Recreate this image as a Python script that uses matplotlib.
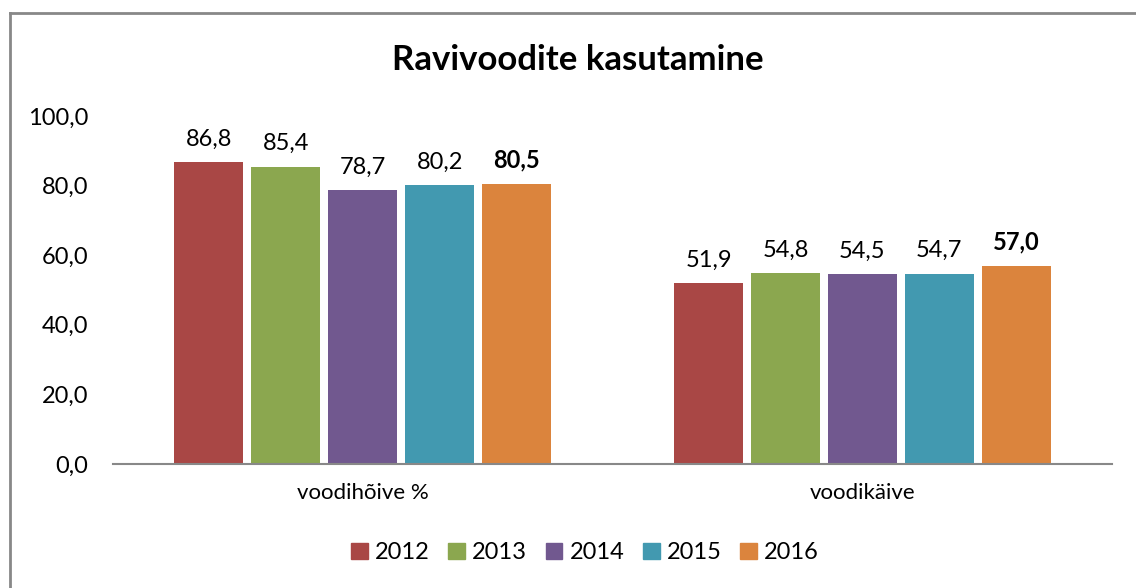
import numpy as np
import matplotlib.pyplot as plt
from matplotlib.lines import Line2D
from matplotlib.patches import Patch

plt.rcParams['font.family'] = ['Lato', 'DejaVu Sans']

categories = ["voodihõive %", "voodikäive"]
years = ["2012", "2013", "2014", "2015", "2016"]
values = {
    "2012": [86.8, 51.9],
    "2013": [85.4, 54.8],
    "2014": [78.7, 54.5],
    "2015": [80.2, 54.7],
    "2016": [80.5, 57.0],
}
colors = ["#A94745", "#8BA74F", "#71588F", "#4299B0", "#DB843D"]
yticks = [0, 20, 40, 60, 80, 100]


def fmt(v):
    return f"{v:.1f}".replace(".", ",")


fig = plt.figure(figsize=(11.36, 5.88), dpi=100)
ax = fig.add_axes([0.0995, 0.2109, 0.8795, 0.5918])

x = np.arange(len(categories))
step = 0.154
width = 0.138
for i, yr in enumerate(years):
    pos = x + (i - 2) * step
    bars = ax.bar(pos, values[yr], width=width, color=colors[i], label=yr)
    bold = yr == "2016"
    for b, v in zip(bars, values[yr]):
        ax.annotate(fmt(v), (b.get_x() + b.get_width() / 2, v),
                    xytext=(0, 9), textcoords="offset points",
                    ha="center", va="bottom", fontsize=17,
                    fontweight="bold" if bold else "normal")

ax.set_xlim(-0.5, 1.5)
ax.set_ylim(0, 100)
ax.set_yticks(yticks)
ax.set_yticklabels([fmt(t) for t in yticks], fontsize=17)
ax.set_xticks(x)
ax.set_xticklabels(categories, fontsize=16)
ax.tick_params(axis="y", length=0, pad=18)
ax.tick_params(axis="x", length=0, pad=14)
for s in ["top", "right", "left"]:
    ax.spines[s].set_visible(False)
ax.spines["bottom"].set_color("#888888")
ax.spines["bottom"].set_linewidth(1.5)

fig.text(0.509, 0.898, "Ravivoodite kasutamine", ha="center", va="center",
         fontsize=25, fontweight="bold")

handles = [Patch(color=c) for c in colors]
fig.legend(handles, years, loc="center", bbox_to_anchor=(0.515, 0.06), ncol=5,
           frameon=False, fontsize=17, handlelength=0.7, handleheight=0.7,
           handletextpad=0.3, columnspacing=0.8)

# chart border (top and left only visible)
fig.add_artist(Line2D([10 / 1136, 10 / 1136], [0, 1 - 13 / 588], color="#888888", lw=2))
fig.add_artist(Line2D([10 / 1136, 1], [1 - 13 / 588, 1 - 13 / 588], color="#888888", lw=2))

fig.savefig("out.png", dpi=100)
